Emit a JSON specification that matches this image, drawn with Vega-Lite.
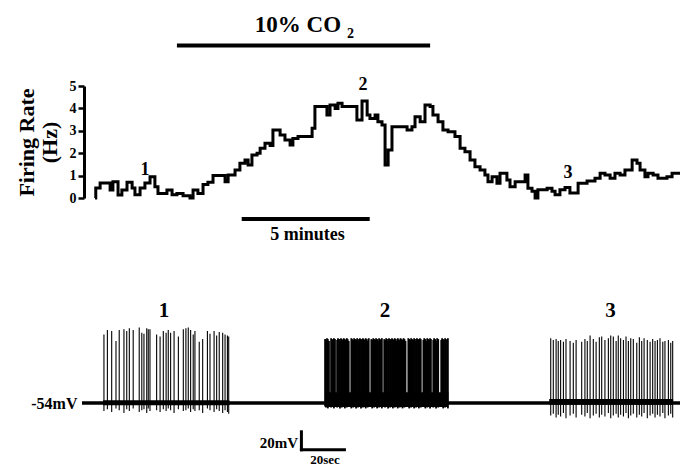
{
  "$schema": "https://vega.github.io/schema/vega-lite/v6.json",
  "width": 680,
  "height": 466,
  "autosize": "none",
  "padding": 0,
  "background": "white",
  "config": {"view": {"stroke": null}},
  "datasets": {
    "rate": [
      {"t":0,"hz":0},{"t":0.03,"hz":0.45},{"t":0.2,"hz":0.67},{"t":0.59,"hz":0.36},{"t":0.7,"hz":0.73},{"t":0.9,"hz":0.13},{"t":1.05,"hz":0.36},{"t":1.25,"hz":0.7},{"t":1.45,"hz":0.45},{"t":1.56,"hz":0.14},{"t":1.76,"hz":0.45},{"t":1.95,"hz":0.67},{"t":2.15,"hz":0.95},{"t":2.34,"hz":0.5},{"t":2.46,"hz":0.2},{"t":2.81,"hz":0.36},{"t":3.01,"hz":0.14},{"t":3.2,"hz":0.2},{"t":3.44,"hz":0.1},{"t":3.71,"hz":0.0},{"t":3.83,"hz":0.36},{"t":4.02,"hz":0.2},{"t":4.22,"hz":0.6},{"t":4.41,"hz":0.7},{"t":4.61,"hz":1.0},{"t":5.08,"hz":0.73},{"t":5.2,"hz":1.03},{"t":5.47,"hz":1.25},{"t":5.66,"hz":1.55},{"t":5.86,"hz":1.7},{"t":5.98,"hz":1.47},{"t":6.13,"hz":1.92},{"t":6.33,"hz":2.0},{"t":6.45,"hz":2.22},{"t":6.64,"hz":2.44},{"t":6.84,"hz":2.34},{"t":6.95,"hz":3.04},{"t":7.23,"hz":2.81},{"t":7.42,"hz":2.59},{"t":7.62,"hz":2.37},{"t":7.73,"hz":2.66},{"t":7.93,"hz":2.74},{"t":8.48,"hz":3.11},{"t":8.59,"hz":4.08},{"t":9.06,"hz":3.7},{"t":9.18,"hz":4.15},{"t":9.38,"hz":4.0},{"t":9.49,"hz":4.23},{"t":9.65,"hz":4.08},{"t":10.23,"hz":3.48},{"t":10.43,"hz":4.33},{"t":10.63,"hz":3.7},{"t":10.74,"hz":3.55},{"t":10.94,"hz":3.7},{"t":11.05,"hz":3.4},{"t":11.21,"hz":3.26},{"t":11.33,"hz":1.47},{"t":11.45,"hz":2.14},{"t":11.6,"hz":3.18},{"t":12.19,"hz":3.04},{"t":12.38,"hz":3.18},{"t":12.5,"hz":3.63},{"t":12.7,"hz":3.4},{"t":12.89,"hz":4.15},{"t":13.09,"hz":4.08},{"t":13.2,"hz":3.7},{"t":13.4,"hz":3.4},{"t":13.59,"hz":3.04},{"t":13.79,"hz":2.96},{"t":14.06,"hz":2.74},{"t":14.26,"hz":2.22},{"t":14.45,"hz":2.07},{"t":14.65,"hz":1.7},{"t":14.84,"hz":1.4},{"t":15.04,"hz":1.25},{"t":15.23,"hz":1.03},{"t":15.35,"hz":0.73},{"t":15.51,"hz":0.95},{"t":15.7,"hz":0.66},{"t":15.82,"hz":1.1},{"t":16.09,"hz":0.8},{"t":16.21,"hz":0.5},{"t":16.41,"hz":0.73},{"t":16.8,"hz":1.03},{"t":16.91,"hz":0.44},{"t":17.07,"hz":0.3},{"t":17.19,"hz":0.0},{"t":17.3,"hz":0.37},{"t":17.66,"hz":0.44},{"t":17.85,"hz":0.3},{"t":17.97,"hz":0.15},{"t":18.16,"hz":0.37},{"t":18.36,"hz":0.47},{"t":18.55,"hz":0.22},{"t":18.87,"hz":0.66},{"t":19.22,"hz":0.76},{"t":19.53,"hz":0.88},{"t":19.73,"hz":1.1},{"t":19.92,"hz":1.03},{"t":20.12,"hz":0.88},{"t":20.31,"hz":1.1},{"t":20.51,"hz":1.03},{"t":20.7,"hz":1.25},{"t":20.98,"hz":1.7},{"t":21.17,"hz":1.55},{"t":21.29,"hz":1.25},{"t":21.48,"hz":0.95},{"t":21.6,"hz":1.1},{"t":21.8,"hz":1.03},{"t":21.99,"hz":0.88},{"t":22.34,"hz":0.95},{"t":22.54,"hz":1.1},{"t":22.85,"hz":1.1}
    ],
    "topbars": [
      {"t":3.2,"t_end":13.09,"hz":6.81},
      {"t":5.73,"t_end":10.73,"hz":-0.94}
    ],
    "toptext": [
      {"kind":"n","label":"1","t":1.95,"hz":1.03},
      {"kind":"n","label":"2","t":10.47,"hz":4.82},
      {"kind":"n","label":"3","t":18.48,"hz":0.89},
      {"kind":"co","label":"10% CO","t":9.61,"hz":7.41},
      {"kind":"sub","label":"2","t":9.98,"hz":7.14},
      {"kind":"min","label":"5 minutes","t":8.3,"hz":-1.875}
    ],
    "bands": [
      {"s":9.8,"s_end":68.5,"mv":-56.5,"mv_end":-51},
      {"s":113.0,"s_end":170.3,"mv":-58.5,"mv_end":-42},
      {"s":217.2,"s_end":274.8,"mv":-56,"mv_end":-49.5}
    ],
    "spikes": [
      {"s":10.2,"mv":-63,"mv_end":22},{"s":11.8,"mv":-61,"mv_end":27},{"s":13.8,"mv":-64,"mv_end":26},{"s":15.8,"mv":-60,"mv_end":15},{"s":17.3,"mv":-62,"mv_end":27},{"s":19.5,"mv":-65,"mv_end":28},{"s":20.8,"mv":-61,"mv_end":26},{"s":22.0,"mv":-63,"mv_end":29},{"s":23.8,"mv":-60,"mv_end":27},{"s":26.6,"mv":-64,"mv_end":30},{"s":27.8,"mv":-62,"mv_end":24},{"s":28.8,"mv":-61,"mv_end":23},{"s":30.1,"mv":-65,"mv_end":29},{"s":30.8,"mv":-60,"mv_end":28},{"s":31.6,"mv":-63,"mv_end":28},{"s":34.7,"mv":-62,"mv_end":22},{"s":36.3,"mv":-64,"mv_end":20},{"s":37.8,"mv":-61,"mv_end":26},{"s":39.1,"mv":-63,"mv_end":24},{"s":40.1,"mv":-60,"mv_end":27},{"s":41.2,"mv":-62,"mv_end":24},{"s":42.8,"mv":-65,"mv_end":26},{"s":44.8,"mv":-61,"mv_end":20},{"s":47.1,"mv":-63,"mv_end":28},{"s":48.3,"mv":-62,"mv_end":29},{"s":49.4,"mv":-60,"mv_end":30},{"s":50.5,"mv":-64,"mv_end":27},{"s":51.7,"mv":-61,"mv_end":22},{"s":52.5,"mv":-63,"mv_end":26},{"s":54.5,"mv":-62,"mv_end":14},{"s":56.1,"mv":-65,"mv_end":17},{"s":58.3,"mv":-60,"mv_end":26},{"s":59.5,"mv":-62,"mv_end":23},{"s":61.4,"mv":-64,"mv_end":26},{"s":62.6,"mv":-61,"mv_end":21},{"s":63.8,"mv":-63,"mv_end":25},{"s":65.4,"mv":-65,"mv_end":24},{"s":66.5,"mv":-62,"mv_end":22},{"s":67.6,"mv":-64,"mv_end":21},{"s":68.2,"mv":-66,"mv_end":20},
      {"s":113.0,"mv":-58,"mv_end":17},{"s":113.4,"mv":-59,"mv_end":16},{"s":113.9,"mv":-57,"mv_end":18},{"s":114.3,"mv":-60,"mv_end":17},{"s":114.8,"mv":-58,"mv_end":15},{"s":115.8,"mv":-59,"mv_end":18},{"s":116.2,"mv":-57,"mv_end":17},{"s":116.7,"mv":-58,"mv_end":16},{"s":117.1,"mv":-60,"mv_end":18},{"s":117.6,"mv":-58,"mv_end":17},{"s":118.6,"mv":-59,"mv_end":16},{"s":119.0,"mv":-57,"mv_end":18},{"s":119.5,"mv":-58,"mv_end":17},{"s":119.9,"mv":-60,"mv_end":15},{"s":120.4,"mv":-58,"mv_end":18},{"s":120.8,"mv":-59,"mv_end":17},{"s":121.3,"mv":-57,"mv_end":16},{"s":121.7,"mv":-58,"mv_end":18},{"s":122.2,"mv":-60,"mv_end":17},{"s":122.6,"mv":-58,"mv_end":16},{"s":123.1,"mv":-59,"mv_end":18},{"s":123.5,"mv":-57,"mv_end":17},{"s":124.0,"mv":-58,"mv_end":15},{"s":125.2,"mv":-60,"mv_end":18},{"s":125.6,"mv":-58,"mv_end":17},{"s":126.1,"mv":-59,"mv_end":16},{"s":126.5,"mv":-57,"mv_end":18},{"s":127.0,"mv":-58,"mv_end":17},{"s":127.4,"mv":-60,"mv_end":16},{"s":127.9,"mv":-58,"mv_end":18},{"s":128.3,"mv":-59,"mv_end":17},{"s":128.8,"mv":-57,"mv_end":15},{"s":129.2,"mv":-58,"mv_end":18},{"s":129.7,"mv":-60,"mv_end":17},{"s":130.1,"mv":-58,"mv_end":16},{"s":130.6,"mv":-59,"mv_end":18},{"s":131.0,"mv":-57,"mv_end":17},{"s":131.5,"mv":-58,"mv_end":16},{"s":131.9,"mv":-60,"mv_end":18},{"s":132.4,"mv":-58,"mv_end":17},{"s":132.8,"mv":-59,"mv_end":15},{"s":133.3,"mv":-57,"mv_end":18},{"s":134.5,"mv":-58,"mv_end":17},{"s":134.9,"mv":-60,"mv_end":16},{"s":135.4,"mv":-58,"mv_end":18},{"s":135.8,"mv":-59,"mv_end":17},{"s":136.3,"mv":-57,"mv_end":16},{"s":136.7,"mv":-58,"mv_end":18},{"s":137.2,"mv":-60,"mv_end":17},{"s":137.6,"mv":-58,"mv_end":15},{"s":138.1,"mv":-59,"mv_end":18},{"s":138.5,"mv":-57,"mv_end":17},{"s":139.0,"mv":-58,"mv_end":16},{"s":139.4,"mv":-60,"mv_end":18},{"s":140.5,"mv":-58,"mv_end":17},{"s":140.9,"mv":-59,"mv_end":16},{"s":141.4,"mv":-57,"mv_end":18},{"s":141.8,"mv":-58,"mv_end":17},{"s":142.3,"mv":-60,"mv_end":15},{"s":142.7,"mv":-58,"mv_end":18},{"s":143.2,"mv":-59,"mv_end":17},{"s":143.6,"mv":-57,"mv_end":16},{"s":144.1,"mv":-58,"mv_end":18},{"s":144.5,"mv":-60,"mv_end":17},{"s":145.0,"mv":-58,"mv_end":16},{"s":145.4,"mv":-59,"mv_end":18},{"s":145.9,"mv":-57,"mv_end":17},{"s":146.3,"mv":-58,"mv_end":15},{"s":146.8,"mv":-60,"mv_end":18},{"s":147.2,"mv":-58,"mv_end":17},{"s":147.7,"mv":-59,"mv_end":16},{"s":148.1,"mv":-57,"mv_end":18},{"s":148.6,"mv":-58,"mv_end":17},{"s":149.0,"mv":-60,"mv_end":16},{"s":149.5,"mv":-58,"mv_end":18},{"s":149.9,"mv":-59,"mv_end":17},{"s":150.4,"mv":-57,"mv_end":15},{"s":151.7,"mv":-58,"mv_end":18},{"s":152.1,"mv":-60,"mv_end":17},{"s":152.6,"mv":-58,"mv_end":16},{"s":153.0,"mv":-59,"mv_end":18},{"s":153.5,"mv":-57,"mv_end":17},{"s":153.9,"mv":-58,"mv_end":16},{"s":154.4,"mv":-60,"mv_end":18},{"s":154.8,"mv":-58,"mv_end":17},{"s":155.3,"mv":-59,"mv_end":15},{"s":155.7,"mv":-57,"mv_end":18},{"s":156.2,"mv":-58,"mv_end":17},{"s":156.6,"mv":-60,"mv_end":16},{"s":157.1,"mv":-58,"mv_end":18},{"s":157.5,"mv":-59,"mv_end":17},{"s":158.7,"mv":-57,"mv_end":16},{"s":159.1,"mv":-58,"mv_end":18},{"s":159.6,"mv":-60,"mv_end":17},{"s":160.0,"mv":-58,"mv_end":15},{"s":160.5,"mv":-59,"mv_end":18},{"s":160.9,"mv":-57,"mv_end":17},{"s":161.4,"mv":-58,"mv_end":16},{"s":161.8,"mv":-60,"mv_end":18},{"s":162.2,"mv":-58,"mv_end":17},{"s":163.3,"mv":-59,"mv_end":16},{"s":163.7,"mv":-57,"mv_end":18},{"s":164.2,"mv":-58,"mv_end":17},{"s":164.6,"mv":-60,"mv_end":15},{"s":165.1,"mv":-58,"mv_end":18},{"s":165.6,"mv":-59,"mv_end":17},{"s":167.0,"mv":-57,"mv_end":16},{"s":167.4,"mv":-58,"mv_end":18},{"s":167.9,"mv":-60,"mv_end":17},{"s":168.3,"mv":-58,"mv_end":16},{"s":168.8,"mv":-59,"mv_end":18},{"s":169.2,"mv":-57,"mv_end":17},{"s":169.7,"mv":-58,"mv_end":16},{"s":170.1,"mv":-60,"mv_end":18},
      {"s":217.9,"mv":-68,"mv_end":18},{"s":219.1,"mv":-66,"mv_end":16},{"s":220.4,"mv":-70,"mv_end":17},{"s":221.4,"mv":-67,"mv_end":15},{"s":222.5,"mv":-69,"mv_end":16},{"s":223.8,"mv":-65,"mv_end":14},{"s":225.0,"mv":-71,"mv_end":17},{"s":226.9,"mv":-68,"mv_end":15},{"s":228.4,"mv":-66,"mv_end":13},{"s":229.7,"mv":-70,"mv_end":16},{"s":232.3,"mv":-67,"mv_end":14},{"s":233.8,"mv":-69,"mv_end":17},{"s":234.9,"mv":-65,"mv_end":15},{"s":236.2,"mv":-71,"mv_end":21},{"s":237.7,"mv":-68,"mv_end":17},{"s":239.0,"mv":-66,"mv_end":14},{"s":240.5,"mv":-70,"mv_end":19},{"s":241.6,"mv":-67,"mv_end":20},{"s":243.1,"mv":-69,"mv_end":16},{"s":244.7,"mv":-65,"mv_end":18},{"s":245.8,"mv":-71,"mv_end":21},{"s":247.0,"mv":-68,"mv_end":20},{"s":248.3,"mv":-66,"mv_end":15},{"s":249.3,"mv":-70,"mv_end":21},{"s":250.4,"mv":-67,"mv_end":18},{"s":251.7,"mv":-69,"mv_end":16},{"s":252.9,"mv":-65,"mv_end":20},{"s":254.0,"mv":-71,"mv_end":15},{"s":255.1,"mv":-68,"mv_end":18},{"s":256.3,"mv":-66,"mv_end":17},{"s":257.9,"mv":-70,"mv_end":13},{"s":259.1,"mv":-67,"mv_end":19},{"s":260.2,"mv":-69,"mv_end":15},{"s":261.3,"mv":-65,"mv_end":18},{"s":262.8,"mv":-71,"mv_end":16},{"s":264.1,"mv":-68,"mv_end":14},{"s":265.3,"mv":-66,"mv_end":17},{"s":266.4,"mv":-70,"mv_end":15},{"s":267.5,"mv":-67,"mv_end":16},{"s":268.7,"mv":-69,"mv_end":18},{"s":270.0,"mv":-65,"mv_end":14},{"s":271.0,"mv":-71,"mv_end":15},{"s":272.6,"mv":-68,"mv_end":16},{"s":273.7,"mv":-66,"mv_end":13},{"s":274.6,"mv":-70,"mv_end":15}
    ],
    "lines": [
      {"kind":"base","s":0,"s_end":278,"mv":-54,"mv_end":-54},
      {"kind":"bar","s":102,"s_end":102,"mv":-86,"mv_end":-106},
      {"kind":"bar","s":102,"s_end":122,"mv":-106,"mv_end":-106}
    ],
    "bottext": [
      {"kind":"n","label":"1","s":38.1,"mv":41.6},
      {"kind":"n","label":"2","s":140.9,"mv":41.6},
      {"kind":"n","label":"3","s":245.7,"mv":41.6},
      {"kind":"mv","label":"20mV","s":100.4,"mv":-104},
      {"kind":"sec","label":"20sec","s":113,"mv":-121.5}
    ]
  },
  "resolve": {"scale": {"x": "independent", "y": "independent"}},
  "layer": [
    {
      "encoding": {
        "x": {"field": "t", "type": "quantitative", "scale": {"domain": [0, 22.85], "range": [95, 680], "nice": false, "zero": false}, "axis": null},
        "y": {"field": "hz", "type": "quantitative", "scale": {"domain": [0, 5], "range": [198, 86], "nice": false, "zero": false},
          "axis": {"orient": "left", "offset": -84, "values": [0, 1, 2, 3, 4, 5], "grid": false,
            "domainColor": "black", "domainWidth": 3, "tickColor": "black", "tickWidth": 2.5, "tickSize": 6,
            "labelFont": "Liberation Serif", "labelFontWeight": "bold", "labelFontSize": 14, "labelColor": "black", "labelPadding": 2,
            "title": ["Firing Rate", "(Hz)"], "titleFont": "Liberation Serif", "titleFontWeight": "bold", "titleFontSize": 22,
            "titleColor": "black", "titlePadding": 8, "titleLineHeight": 23}}
      },
      "layer": [
        {"data": {"name": "rate"}, "mark": {"type": "line", "interpolate": "step-after", "color": "black", "strokeWidth": 3}},
        {"data": {"name": "topbars"}, "mark": {"type": "rule", "color": "black", "strokeWidth": 4},
         "encoding": {"x2": {"field": "t_end"}}},
        {"data": {"name": "toptext"}, "transform": [{"filter": "datum.kind == 'n'"}],
         "mark": {"type": "text", "font": "Liberation Serif", "fontWeight": "bold", "fontSize": 18, "align": "center", "baseline": "alphabetic", "color": "black"},
         "encoding": {"text": {"field": "label"}}},
        {"data": {"name": "toptext"}, "transform": [{"filter": "datum.kind == 'co'"}],
         "mark": {"type": "text", "font": "Liberation Serif", "fontWeight": "bold", "fontSize": 23, "align": "right", "baseline": "alphabetic", "color": "black"},
         "encoding": {"text": {"field": "label"}}},
        {"data": {"name": "toptext"}, "transform": [{"filter": "datum.kind == 'sub'"}],
         "mark": {"type": "text", "font": "Liberation Serif", "fontWeight": "bold", "fontSize": 14, "align": "center", "baseline": "alphabetic", "color": "black"},
         "encoding": {"text": {"field": "label"}}},
        {"data": {"name": "toptext"}, "transform": [{"filter": "datum.kind == 'min'"}],
         "mark": {"type": "text", "font": "Liberation Serif", "fontWeight": "bold", "fontSize": 18, "align": "center", "baseline": "alphabetic", "color": "black"},
         "encoding": {"text": {"field": "label"}}}
      ]
    },
    {
      "encoding": {
        "x": {"field": "s", "type": "quantitative", "scale": {"domain": [0, 278], "range": [82, 680], "nice": false, "zero": false}, "axis": null},
        "y": {"field": "mv", "type": "quantitative", "scale": {"domain": [-54, 36], "range": [403, 322], "nice": false, "zero": false},
          "axis": {"orient": "left", "offset": -82, "values": [-54], "labelExpr": "datum.value + 'mV'", "domain": false, "ticks": false, "grid": false, "title": null,
            "labelFont": "Liberation Serif", "labelFontWeight": "bold", "labelFontSize": 16, "labelColor": "black", "labelPadding": 5}}
      },
      "layer": [
        {"data": {"name": "bands"}, "mark": {"type": "rect", "color": "black"},
         "encoding": {"x2": {"field": "s_end"}, "y2": {"field": "mv_end"}}},
        {"data": {"name": "spikes"}, "transform": [{"filter": "datum.s < 100 || datum.s > 200"}],
         "mark": {"type": "rule", "color": "black", "strokeWidth": 1.1},
         "encoding": {"y2": {"field": "mv_end"}}},
        {"data": {"name": "spikes"}, "transform": [{"filter": "datum.s > 100 && datum.s < 200"}],
         "mark": {"type": "rule", "color": "black", "strokeWidth": 1.8},
         "encoding": {"y2": {"field": "mv_end"}}},
        {"data": {"name": "lines"}, "transform": [{"filter": "datum.kind == 'base'"}],
         "mark": {"type": "rule", "color": "black", "strokeWidth": 3.5},
         "encoding": {"x2": {"field": "s_end"}, "y2": {"field": "mv_end"}}},
        {"data": {"name": "lines"}, "transform": [{"filter": "datum.kind == 'bar'"}],
         "mark": {"type": "rule", "color": "black", "strokeWidth": 3, "strokeCap": "square"},
         "encoding": {"x2": {"field": "s_end"}, "y2": {"field": "mv_end"}}},
        {"data": {"name": "bottext"}, "transform": [{"filter": "datum.kind == 'n'"}],
         "mark": {"type": "text", "font": "Liberation Serif", "fontWeight": "bold", "fontSize": 21, "align": "center", "baseline": "alphabetic", "color": "black"},
         "encoding": {"text": {"field": "label"}}},
        {"data": {"name": "bottext"}, "transform": [{"filter": "datum.kind == 'mv'"}],
         "mark": {"type": "text", "font": "Liberation Serif", "fontWeight": "bold", "fontSize": 15, "align": "right", "baseline": "alphabetic", "color": "black"},
         "encoding": {"text": {"field": "label"}}},
        {"data": {"name": "bottext"}, "transform": [{"filter": "datum.kind == 'sec'"}],
         "mark": {"type": "text", "font": "Liberation Serif", "fontWeight": "bold", "fontSize": 13, "align": "center", "baseline": "alphabetic", "color": "black"},
         "encoding": {"text": {"field": "label"}}}
      ]
    }
  ]
}
